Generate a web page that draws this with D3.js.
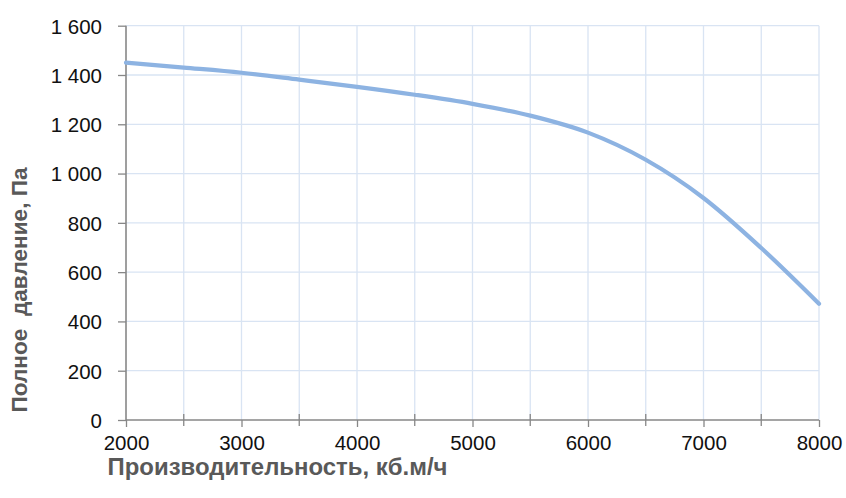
<!DOCTYPE html>
<html><head><meta charset="utf-8">
<script src="https://cdn.jsdelivr.net/npm/d3@7"></script>
<style>body{margin:0;background:#fff}</style>
</head><body>
<svg id="c" width="846" height="498"></svg>
<script>
const flow = [2000,2500,3000,3500,4000,4500,5000,5500,6000,6500,7000,7500,8000];
const pressure = [1450,1430,1409,1381,1352,1320,1283,1235,1166,1056,901,698,472];
const xTicks = [2000,3000,4000,5000,6000,7000,8000];
const xMinor = [2500,3500,4500,5500,6500,7500];
const yTicks = [0,200,400,600,800,1000,1200,1400,1600];
const xTitle = "Производительность, кб.м/ч";
const yTitle = "Полное  давление, Па";

const svg = d3.select("#c");
const x = d3.scaleLinear().domain([2000,8000]).range([126,819]);
const y = d3.scaleLinear().domain([0,1600]).range([420,25.7]);
const grid = "#d9e4f3";
const axisCol = "#878787";
const tickFont = "'Liberation Sans', Arial, sans-serif";
const fmt = v => v >= 1000 ? Math.floor(v/1000) + " " + String(v%1000).padStart(3,"0") : String(v);

// gridlines
svg.append("g").selectAll("line").data(yTicks.slice(1)).join("line")
  .attr("x1",126).attr("x2",819).attr("y1",d=>y(d)).attr("y2",d=>y(d))
  .attr("stroke",grid).attr("stroke-width",1.3);
svg.append("g").selectAll("line").data(xTicks.concat(xMinor).filter(d=>d>2000)).join("line")
  .attr("x1",d=>x(d)).attr("x2",d=>x(d)).attr("y1",25.7).attr("y2",420)
  .attr("stroke",grid).attr("stroke-width",1.3);

// axes
const yAxis = d3.axisLeft(y).tickValues(yTicks).tickSize(8).tickPadding(16).tickFormat(fmt);
const gy = svg.append("g").attr("transform","translate(126,0)").call(yAxis);
const xAxis = d3.axisBottom(x).tickValues(xTicks).tickSize(7).tickFormat(d=>d);
const gx = svg.append("g").attr("transform","translate(0,420)").call(xAxis);
gx.selectAll("text").attr("y",30).attr("dy",0);
gy.selectAll("text").attr("dy","0.36em");
// minor ticks (crossing)
svg.append("g").selectAll("line").data(xMinor).join("line")
  .attr("x1",d=>x(d)).attr("x2",d=>x(d)).attr("y1",414).attr("y2",426)
  .attr("stroke",axisCol).attr("stroke-width",1.3);
[gx,gy].forEach(g=>{
  g.attr("font-family",null).attr("font-size",null);
  g.select(".domain").attr("stroke",axisCol).attr("stroke-width",1.6);
  g.selectAll(".tick line").attr("stroke",axisCol).attr("stroke-width",1.3);
  g.selectAll("text").attr("fill","#111").style("font-family",tickFont).style("font-size","20.5px");
});
gy.select(".domain").attr("d","M0,25.7V420");
gx.select(".domain").attr("d","M126,0H819");

// line
svg.append("path").datum(flow.map((f,i)=>[f,pressure[i]]))
  .attr("d", d3.line().x(d=>x(d[0])).y(d=>y(d[1])).curve(d3.curveMonotoneX))
  .attr("fill","none").attr("stroke","#8db3e2").attr("stroke-width",4.2).attr("stroke-linecap","round");

// titles, fitted to measured extents
function fit(sel, target){
  const w = sel.node().getComputedTextLength();
  const fs = parseFloat(sel.style("font-size"));
  sel.style("font-size", (fs*target/w).toFixed(2)+"px");
}
const xt = svg.append("text").attr("x",277.5).attr("y",475).attr("text-anchor","middle")
  .style("font-family","'Liberation Sans', Arial, sans-serif").style("font-weight","bold").style("font-size","20px")
  .attr("fill","#595959").text(xTitle);
fit(xt, 340);
const yt = svg.append("text").attr("transform","translate(26.5,290) rotate(-90)").attr("text-anchor","middle")
  .style("font-family","'Liberation Sans', Arial, sans-serif").style("font-weight","bold").style("font-size","18px")
  .attr("fill","#595959").attr("xml:space","preserve").style("white-space","pre").text(yTitle);
fit(yt, 245);
</script>
</body></html>
